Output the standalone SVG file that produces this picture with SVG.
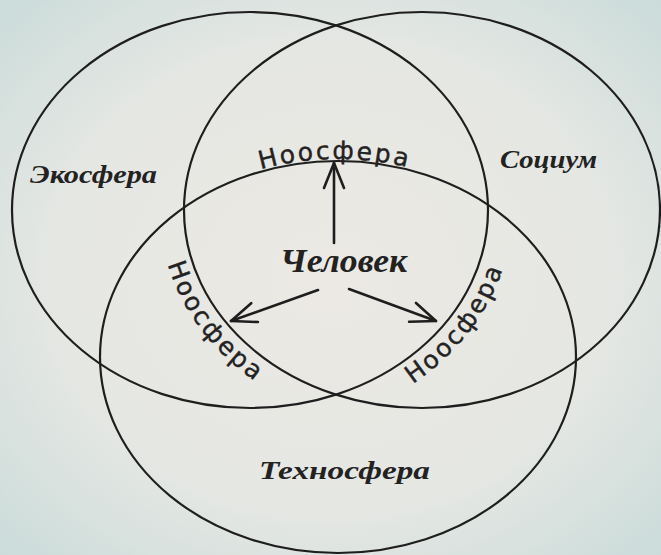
<svg xmlns="http://www.w3.org/2000/svg" width="661" height="555" viewBox="0 0 661 555">
  <defs>
    <radialGradient id="bg" cx="50%" cy="50%" r="70%">
      <stop offset="0" stop-color="#ece9e4"/>
      <stop offset="0.6" stop-color="#e5e7e3"/>
      <stop offset="1" stop-color="#cbdcda"/>
    </radialGradient>
    <marker id="vhead" markerUnits="userSpaceOnUse" viewBox="-28 -13 31 26" refX="0" refY="0" markerWidth="31" markerHeight="26" orient="auto">
      <path d="M-25,-10 L0,0 L-25,10" fill="none" stroke="#1e1e1e" stroke-width="2.6" stroke-linecap="round" stroke-linejoin="round"/>
    </marker>
    <path id="pTop" d="M183.7,205.3 A240,198 0 0 1 492.3,205.3"/>
    <path id="pLeft" d="M167.1,158.6 A262,222 0 0 0 361.3,426.0"/>
    <path id="pRight" d="M303.1,427.4 A262,222 0 0 0 506.5,165.0"/>
    <style>
      .ring { fill: none; stroke: #1e1e1e; stroke-width: 2.2; }
      .script { font-family: "Liberation Serif", "DejaVu Serif", serif; font-style: italic; font-weight: bold; fill: #222; }
      .noo { font-family: "DejaVu Sans", "Liberation Sans", sans-serif; font-size: 25px; letter-spacing: 2.4px; fill: #222; stroke: #222; stroke-width: 0.4; }
      .arrow { fill: none; stroke: #1e1e1e; stroke-width: 2.6; stroke-linecap: round; marker-end: url(#vhead); }
    </style>
  </defs>

  <rect x="0" y="0" width="661" height="555" fill="url(#bg)"/>

  <g id="ecosphere">
    <ellipse class="ring" cx="250" cy="210" rx="238" ry="198"/>
    <text class="script" x="30" y="183" font-size="25" textLength="127" lengthAdjust="spacingAndGlyphs">Экосфера</text>
  </g>

  <g id="socium">
    <ellipse class="ring" cx="422" cy="210" rx="238" ry="198"/>
    <text class="script" x="500" y="168" font-size="26" textLength="97" lengthAdjust="spacingAndGlyphs">Социум</text>
  </g>

  <g id="technosphere">
    <ellipse class="ring" cx="338" cy="357" rx="238" ry="196"/>
    <text class="script" x="259" y="479" font-size="26" textLength="171" lengthAdjust="spacingAndGlyphs">Техносфера</text>
  </g>

  <g id="human">
    <text class="script" x="280" y="272" font-size="33" textLength="127" lengthAdjust="spacingAndGlyphs">Человек</text>
  </g>

  <g id="noosphere-top">
    <text class="noo"><textPath href="#pTop" startOffset="49%" text-anchor="middle">Ноосфера</textPath></text>
  </g>
  <g id="noosphere-left">
    <text class="noo"><textPath href="#pLeft" startOffset="49%" text-anchor="middle">Ноосфера</textPath></text>
  </g>
  <g id="noosphere-right">
    <text class="noo"><textPath href="#pRight" startOffset="52%" text-anchor="middle">Ноосфера</textPath></text>
  </g>

  <g id="connectors">
    <path class="arrow" d="M334,243 L334,163"/>
    <path class="arrow" d="M318,290 L231,321"/>
    <path class="arrow" d="M349,289 L436,321"/>
  </g>
</svg>
